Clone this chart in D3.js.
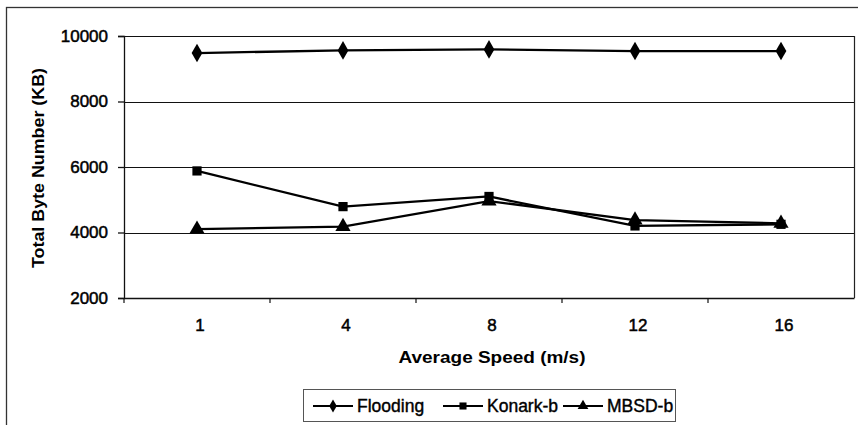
<!DOCTYPE html>
<html>
<head>
<meta charset="utf-8">
<script src="https://cdn.jsdelivr.net/npm/d3@7"></script>
<style>
  body { margin: 0; background: #fff; }
  svg { display: block; font-family: "Liberation Sans", Arial, sans-serif; }
</style>
</head>
<body>
<svg width="858" height="425"></svg>
<script>
// chart data
const speeds = ["1", "4", "8", "12", "16"];
const flooding = [9480, 9560, 9590, 9540, 9540];
const konark = [5880, 4790, 5100, 4200, 4250];
const mbsd = [4100, 4180, 4960, 4380, 4280];
const yTicks = [2000, 4000, 6000, 8000, 10000];
const seriesNames = ["Flooding", "Konark-b", "MBSD-b"];
const seriesShapes = [d3.symbolDiamond, d3.symbolSquare, d3.symbolTriangle];

var svg = d3.select("svg");

const plot = {left: 124, top: 36, right: 854, bottom: 298};

// outer chart frame (runs off the right / bottom of the picture)
svg.append("rect")
	.attr("x", 6.5).attr("y", 7.5)
	.attr("width", 900).attr("height", 500)
	.attr("fill", "none")
	.attr("stroke", "#333")
	.attr("stroke-width", 1.3);

var x = d3.scaleBand().domain(speeds).range([plot.left, plot.right]).padding(0);
var y = d3.scaleLinear().domain([2000, 10000]).range([plot.bottom, plot.top]);

const g = svg.append("g");

// gridlines
g.selectAll("line.grid")
	.data(yTicks.filter(d => d > 2000))
	.enter()
	.append("line")
	.attr("class", "grid")
	.attr("x1", plot.left).attr("x2", plot.right)
	.attr("y1", d => Math.round(y(d)) + 0.5).attr("y2", d => Math.round(y(d)) + 0.5)
	.attr("stroke", "#111")
	.attr("stroke-width", 1.2);

// plot frame right edge
g.append("line")
	.attr("x1", plot.right + 0.5).attr("x2", plot.right + 0.5)
	.attr("y1", plot.top).attr("y2", plot.bottom)
	.attr("stroke", "#222").attr("stroke-width", 1.2);

// y axis
var yAxis = g.append("g")
	.attr("transform", "translate(" + plot.left + ",0)")
	.call(d3.axisLeft(y).tickValues(yTicks).tickSize(6).tickPadding(10).tickFormat(d3.format("d")));
yAxis.selectAll("text")
	.attr("font-size", 17)
	.attr("font-family", "Liberation Sans, Arial, sans-serif")
	.attr("fill", "#000")
	.attr("stroke", "#000").attr("stroke-width", 0.5);
yAxis.selectAll("line, path").attr("stroke", "#111").attr("stroke-width", 1.3);

// x axis
var xAxis = g.append("g")
	.attr("transform", "translate(0," + plot.bottom + ")")
	.call(d3.axisBottom(x).tickSize(0).tickPadding(21));
xAxis.select("path").attr("stroke", "#111").attr("stroke-width", 1.3);
xAxis.selectAll("text")
	.attr("font-size", 17)
	.attr("dx", 3)
	.attr("font-family", "Liberation Sans, Arial, sans-serif")
	.attr("fill", "#000")
	.attr("stroke", "#000").attr("stroke-width", 0.5);

// tick marks between categories
xAxis.selectAll("line.sep")
	.data(speeds)
	.enter()
	.append("line")
	.attr("class", "sep")
	.attr("x1", d => x(d)).attr("x2", d => x(d))
	.attr("y1", 0).attr("y2", 5)
	.attr("stroke", "#111").attr("stroke-width", 1.2);

// axis titles
svg.append("text")
	.attr("x", 492).attr("y", 363)
	.attr("text-anchor", "middle")
	.attr("font-size", 17).attr("font-weight", "bold")
	.attr("textLength", 187).attr("lengthAdjust", "spacingAndGlyphs")
	.text("Average Speed (m/s)");

svg.append("text")
	.attr("transform", "translate(44,168) rotate(-90)")
	.attr("text-anchor", "middle")
	.attr("font-size", 17).attr("font-weight", "bold")
	.attr("textLength", 200).attr("lengthAdjust", "spacingAndGlyphs")
	.text("Total Byte Number (KB)");

// series
const allSeries = [flooding, konark, mbsd];
var line = d3.line()
	.x((d, i) => x(speeds[i]) + x.bandwidth() / 2)
	.y(d => y(d));

allSeries.forEach(function(values, k) {
	g.append("path")
		.datum(values)
		.attr("d", line)
		.attr("fill", "none")
		.attr("stroke", "#000")
		.attr("stroke-width", 2.3);
	g.selectAll("path.m" + k)
		.data(values)
		.enter()
		.append("path")
		.attr("class", "m" + k)
		.attr("d", d3.symbol().type(seriesShapes[k]).size(k == 1 ? 85 : 100))
		.attr("transform", (d, i) => "translate(" + (x(speeds[i]) + x.bandwidth() / 2) + "," + y(d) + ")")
		.attr("fill", "#000");
});

// legend
const legend = svg.append("g");
legend.append("rect")
	.attr("x", 303.5).attr("y", 389.5)
	.attr("width", 372).attr("height", 32)
	.attr("fill", "none")
	.attr("stroke", "#555").attr("stroke-width", 1);

const legendX = [313, 443, 563];
seriesNames.forEach(function(name, k) {
	var lg = legend.append("g").attr("transform", "translate(" + legendX[k] + ",406)");
	lg.append("line")
		.attr("x1", 0).attr("x2", 40)
		.attr("stroke", "#000").attr("stroke-width", 2);
	lg.append("path")
		.attr("d", d3.symbol().type(seriesShapes[k]).size(50))
		.attr("transform", "translate(20,0)")
		.attr("fill", "#000");
	lg.append("text")
		.attr("x", 44).attr("y", 6)
		.attr("font-size", 17.5)
		.attr("fill", "#000")
		.attr("stroke", "#000").attr("stroke-width", 0.4)
		.text(name);
});
</script>
</body>
</html>
